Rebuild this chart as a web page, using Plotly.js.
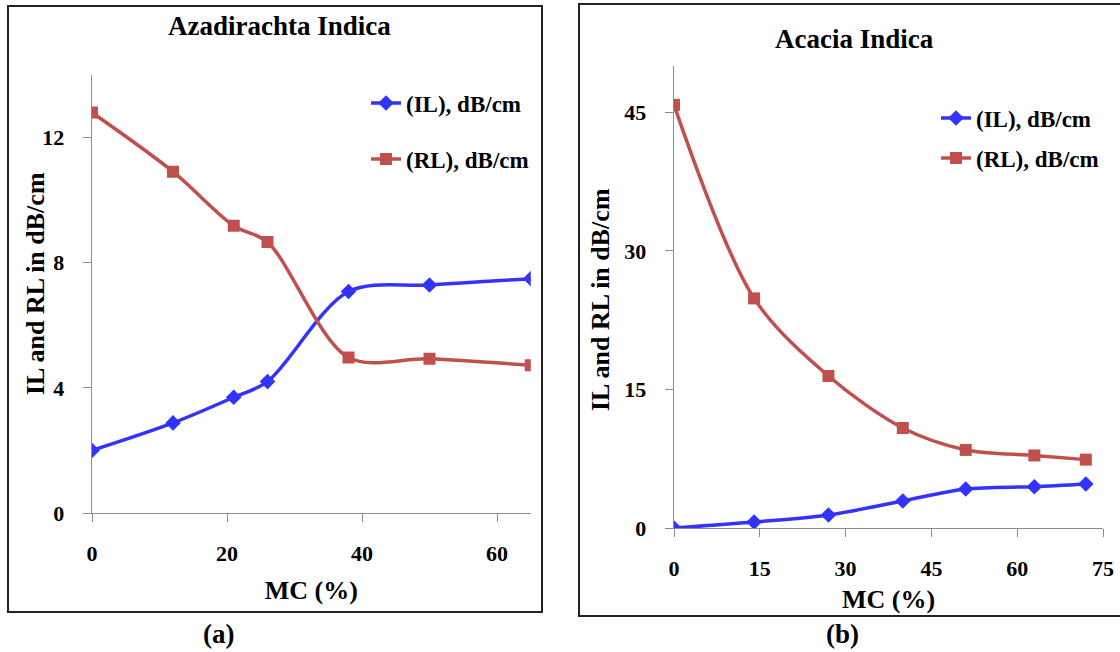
<!DOCTYPE html>
<html>
<head>
<meta charset="utf-8">
<script src="https://cdn.plot.ly/plotly-3.0.1.min.js"></script>
<style>html,body{margin:0;padding:0;background:#fff;}#chart{width:1120px;height:652px;}</style>
</head>
<body>
<div id="chart"></div>
<script>
// ---- Data (a) Azadirachta Indica ----
const mcA = [0, 12, 21, 26, 38, 50, 65];
const ilA = [2.0, 2.88, 3.70, 4.20, 7.08, 7.29, 7.49];
const rlA = [12.80, 10.91, 9.18, 8.66, 4.97, 4.93, 4.72];
// ---- Data (b) Acacia Indica ----
const mcB = [0, 14, 27, 40, 51, 63, 72];
const ilB = [0.0, 0.64, 1.40, 2.93, 4.22, 4.47, 4.76];
const rlB = [45.8, 24.85, 16.45, 10.82, 8.45, 7.85, 7.40];
// ---- Text ----
const titleA = "Azadirachta Indica";
const titleB = "Acacia Indica";
const seriesNames = ["(IL), dB/cm", "(RL), dB/cm"];
const xTitle = "MC (%)";
const yTitle = "IL and RL in dB/cm";
const ticksAx = [0, 20, 40, 60];
const ticksAy = [0, 4, 8, 12];
const ticksBx = [0, 15, 30, 45, 60, 75];
const ticksBy = [0, 15, 30, 45];
const panelLabels = ["(a)", "(b)"];

const W = 1120, H = 652;
const fx = p => p / W;
const fy = p => 1 - p / H;
const FONT = "Liberation Serif, Times New Roman, serif";
const BLUE = "#3333FF", RED = "#C0504D";

function ilTrace(x, y, xa, ya, lg) {
  return {x, y, xaxis: xa, yaxis: ya, name: seriesNames[0], legend: lg, type: "scatter", mode: "lines+markers",
    line: {color: BLUE, width: 3.5, shape: "spline", smoothing: 0.9},
    marker: {symbol: "diamond", size: 12, color: BLUE}};
}
function rlTrace(x, y, xa, ya, lg) {
  return {x, y, xaxis: xa, yaxis: ya, name: seriesNames[1], legend: lg, type: "scatter", mode: "lines+markers",
    line: {color: RED, width: 3.5, shape: "spline", smoothing: 0.9},
    marker: {symbol: "square", size: 12, color: RED}};
}

const data = [
  ilTrace(mcA, ilA, "x", "y", "legend"),
  rlTrace(mcA, rlA, "x", "y", "legend2"),
  ilTrace(mcB, ilB, "x2", "y2", "legend3"),
  rlTrace(mcB, rlB, "x2", "y2", "legend4")
];

const tickFont = {family: FONT, size: 22, color: "#000", weight: "bold"};
const titleFont = {family: FONT, size: 26, color: "#000", weight: "bold"};
const headFont = {family: FONT, size: 27, color: "#000", weight: "bold"};
const legFont = {family: FONT, size: 23, color: "#000", weight: "bold"};

function xAxis(domain, range, ticks, anchor, standoff) {
  return {domain, range, anchor, tickvals: ticks, ticktext: ticks.map(String), ticks: "outside", ticklen: 8, tickcolor: "#8c8c8c",
    showline: true, linecolor: "#8c8c8c", linewidth: 1.3, showgrid: false, zeroline: false, tickfont: tickFont,
    ticklabelstandoff: 12, title: {text: xTitle, font: titleFont, standoff: standoff}, fixedrange: true};
}
function yAxis(domain, range, ticks, anchor) {
  return {domain, range, anchor, tickvals: ticks, ticktext: ticks.map(String), ticks: "outside", ticklen: 8, tickcolor: "#8c8c8c",
    showline: true, linecolor: "#8c8c8c", linewidth: 1.3, showgrid: false, zeroline: false, tickfont: tickFont,
    ticklabelstandoff: 14, fixedrange: true};
}
function legendAt(px, py) {
  return {x: fx(px), y: fy(py), xanchor: "left", yanchor: "middle", xref: "paper", yref: "paper",
    bgcolor: "rgba(0,0,0,0)", borderwidth: 0, font: legFont, itemwidth: 30};
}

const layout = {
  width: W, height: H,
  margin: {l: 0, r: 0, t: 0, b: 0},
  paper_bgcolor: "#fff", plot_bgcolor: "#fff",
  showlegend: true,
  xaxis: xAxis([fx(92), fx(530.75)], [0, 65], ticksAx, "y", 16),
  yaxis: yAxis([fy(513), fy(75)], [0, 14], ticksAy, "x"),
  xaxis2: xAxis([fx(674), fx(1103)], [0, 75], ticksBx, "y2", 10),
  yaxis2: yAxis([fy(528), fy(66)], [0, 50], ticksBy, "x2"),
  legend: legendAt(366, 103),
  legend2: legendAt(366, 159),
  legend3: legendAt(936, 118),
  legend4: legendAt(936, 158),
  shapes: [
    {type: "rect", xref: "paper", yref: "paper", x0: fx(8), x1: fx(542), y0: fy(612), y1: fy(6), line: {color: "#222", width: 2}},
    {type: "rect", xref: "paper", yref: "paper", x0: fx(579), x1: fx(1130), y0: fy(616), y1: fy(4), line: {color: "#222", width: 2}}
  ],
  annotations: [
    {text: titleA, xref: "paper", yref: "paper", x: fx(279), y: fy(26), xanchor: "center", yanchor: "middle", showarrow: false, font: headFont},
    {text: titleB, xref: "paper", yref: "paper", x: fx(854), y: fy(39), xanchor: "center", yanchor: "middle", showarrow: false, font: headFont},
    {text: yTitle, xref: "paper", yref: "paper", x: fx(36), y: fy(284), xanchor: "center", yanchor: "middle", textangle: -90, showarrow: false, font: titleFont},
    {text: yTitle, xref: "paper", yref: "paper", x: fx(600), y: fy(300), xanchor: "center", yanchor: "middle", textangle: -90, showarrow: false, font: titleFont},
    {text: panelLabels[0], xref: "paper", yref: "paper", x: fx(218), y: fy(634), xanchor: "center", yanchor: "middle", showarrow: false, font: {family: FONT, size: 27, color: "#000", weight: "bold"}},
    {text: panelLabels[1], xref: "paper", yref: "paper", x: fx(842), y: fy(634), xanchor: "center", yanchor: "middle", showarrow: false, font: {family: FONT, size: 27, color: "#000", weight: "bold"}}
  ]
};

Plotly.newPlot("chart", data, layout, {displayModeBar: false, staticPlot: true});
</script>
</body>
</html>
